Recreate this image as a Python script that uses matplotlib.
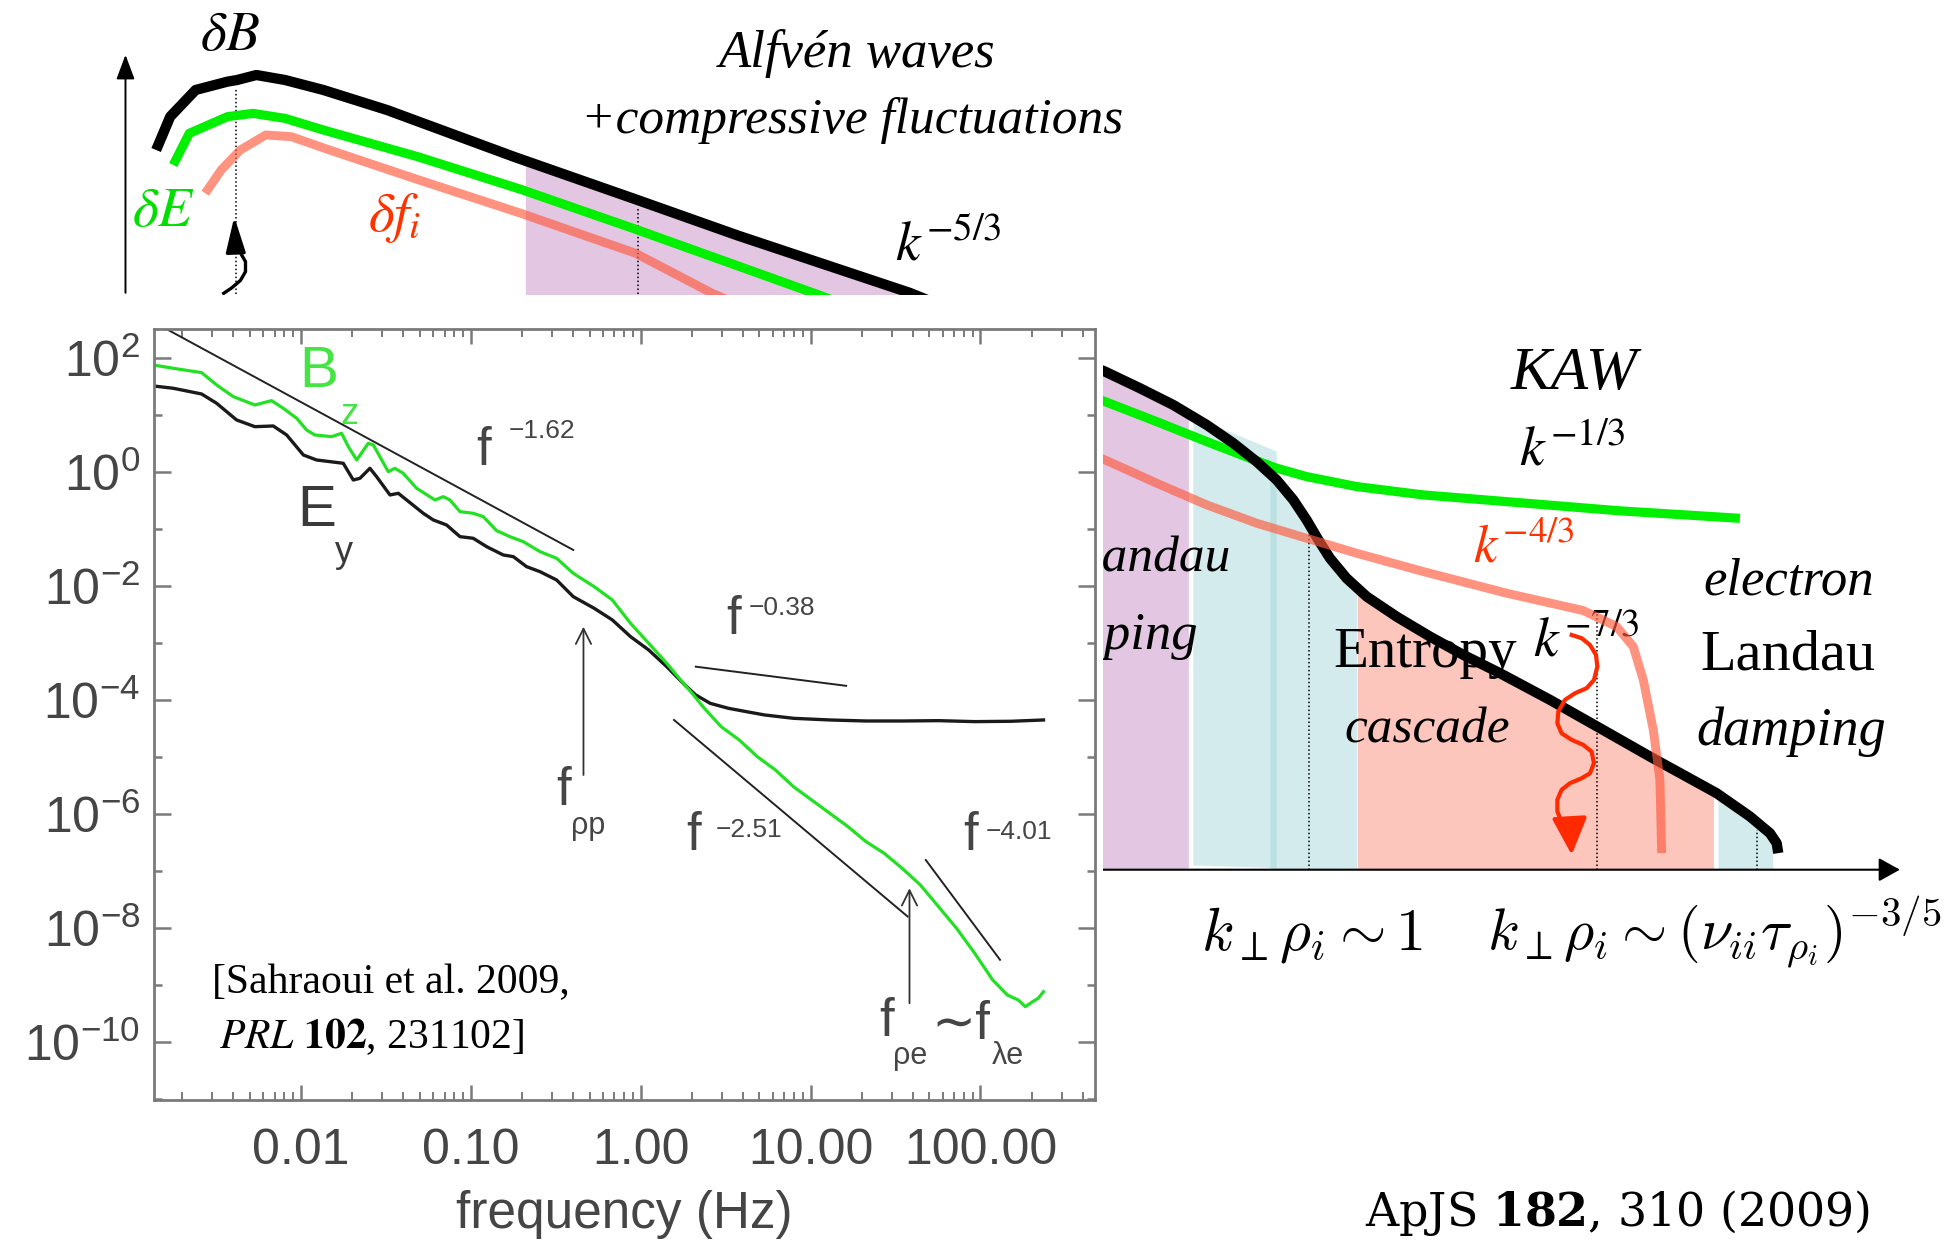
import numpy as np
import matplotlib
matplotlib.use('Agg')
import matplotlib.pyplot as plt
from matplotlib.patches import Rectangle, Polygon
from matplotlib.ticker import FixedLocator, FuncFormatter, LogLocator, NullFormatter

plt.rcParams['font.family'] = ['Liberation Sans', 'DejaVu Sans']

# --- schematic spectra (sketch units: log k to the right, log amplitude up) ---
dB_k = [1.253, 1.366, 1.57, 1.826, 1.903, 2.057, 2.287, 2.594, 3.106, 4.129, 5.101, 5.92, 7.30,
        8.867, 9.148, 9.415, 9.683, 9.897, 10.084, 10.245, 10.378, 10.485, 10.579, 10.672,
        10.806, 10.967, 11.207, 11.475, 11.742, 12.037, 12.438, 12.839, 13.24, 13.508,
        13.775, 14.043, 14.203, 14.257, 14.27]
dB_amp = [8.756, 9.024, 9.238, 9.305, 9.318, 9.358, 9.318, 9.238, 9.077, 8.70, 8.36, 8.07, 7.61,
          6.978, 6.844, 6.71, 6.55, 6.403, 6.255, 6.108, 5.948, 5.787, 5.627, 5.48,
          5.319, 5.172, 5.011, 4.851, 4.704, 4.557, 4.343, 4.116, 3.888, 3.741,
          3.594, 3.407, 3.273, 3.193, 3.113]

dE_k = [1.39, 1.519, 1.826, 2.03, 2.287, 2.594, 3.36, 4.18, 5.101, 6.534,
        8.867, 9.282, 9.683, 10.031, 10.245, 10.485, 10.886, 11.421, 12.09, 13.0, 13.962]
dE_amp = [8.636, 8.89, 9.024, 9.05, 9.01, 8.917, 8.70, 8.44, 8.12, 7.606,
          6.737, 6.576, 6.416, 6.282, 6.202, 6.135, 6.055, 5.988, 5.934, 5.86, 5.80]

dfi_k = [1.647, 1.775, 1.928, 2.133, 2.338, 2.645, 3.361, 4.18, 5.101, 5.715,
         8.867, 9.282, 9.683, 10.084, 10.485, 10.886, 11.421, 12.09, 12.705, 12.973,
         13.106, 13.187, 13.267, 13.32, 13.334]
dfi_amp = [8.409, 8.596, 8.756, 8.877, 8.863, 8.756, 8.516, 8.248, 7.927, 7.606,
           6.269, 6.082, 5.908, 5.761, 5.64, 5.52, 5.373, 5.199, 5.06, 4.931,
           4.771, 4.503, 4.102, 3.701, 3.113]

# shaded k ranges under the dB curve
purple_band = (4.216, 9.536)
teal_band = (10.19, 10.886)
salmon_band = (10.892, 13.75)
teal_band_e = (13.786, 14.225)
teal_patch_k = [9.576, 10.245, 10.245, 9.576]
teal_patch_amp = [6.616, 6.336, 2.993, 3.015]

# dotted scale markers
marks_k = [1.892, 5.116, 10.506, 12.818, 14.102]
marks_top = [9.25, 8.30, 5.68, 5.04, 3.30]

# wavy arrows (energy injection / ion heating)
inject_k = [1.795, 1.86, 1.93, 1.97, 1.97, 1.93, 1.89]
inject_amp = [7.606, 7.65, 7.71, 7.78, 7.86, 7.93, 7.98]
inject_tip = (1.88, 8.22)
heat_k = [12.612, 12.692, 12.759, 12.807, 12.818, 12.791, 12.732, 12.638, 12.558, 12.505,
          12.497, 12.531, 12.612, 12.705, 12.772, 12.791, 12.759, 12.692, 12.598, 12.531,
          12.497, 12.497, 12.531, 12.598]
heat_amp = [4.864, 4.838, 4.784, 4.704, 4.61, 4.503, 4.437, 4.396, 4.343, 4.249,
            4.156, 4.075, 4.022, 3.982, 3.928, 3.835, 3.754, 3.714, 3.674, 3.621,
            3.541, 3.447, 3.367, 3.34]
heat_tip = (12.612, 3.10)

# --- measured spectra, Cluster (log10 f [Hz], log10 PSD) ---
bz_logf = [-2.869, -2.751, -2.585, -2.496, -2.398, -2.271, -2.173, -2.104, -2.025, -1.967,
           -1.918, -1.819, -1.761, -1.721, -1.672, -1.604, -1.574, -1.486, -1.447, -1.398,
           -1.319, -1.211, -1.162, -1.123, -1.064, -0.986, -0.927, -0.848, -0.770, -0.691,
           -0.593, -0.495, -0.397, -0.274, -0.167, -0.060, 0.047, 0.153, 0.260, 0.303,
           0.366, 0.473, 0.580, 0.686, 0.793, 0.899, 1.006, 1.113, 1.220, 1.326,
           1.433, 1.539, 1.646, 1.753, 1.859, 1.966, 2.072, 2.158, 2.222, 2.264,
           2.307, 2.339, 2.371]
bz_logp = [1.882, 1.824, 1.748, 1.531, 1.326, 1.180, 1.256, 1.122, 0.946, 0.741,
           0.653, 0.624, 0.683, 0.448, 0.214, 0.507, 0.478, 0.009, 0.068, -0.020,
           -0.283, -0.488, -0.430, -0.488, -0.693, -0.722, -0.781, -1.027, -1.132, -1.220,
           -1.395, -1.512, -1.776, -2.010, -2.244, -2.654, -3.005, -3.356, -3.737, -3.883,
           -4.117, -4.468, -4.702, -4.995, -5.229, -5.522, -5.756, -5.990, -6.224, -6.487,
           -6.692, -6.956, -7.248, -7.629, -8.009, -8.448, -8.917, -9.180, -9.268, -9.385,
           -9.297, -9.239, -9.122]

ey_logf = [-2.869, -2.751, -2.585, -2.496, -2.379, -2.271, -2.163, -2.084, -1.986, -1.908,
           -1.829, -1.751, -1.692, -1.653, -1.594, -1.555, -1.476, -1.427, -1.378, -1.280,
           -1.221, -1.143, -1.064, -0.986, -0.907, -0.809, -0.750, -0.672, -0.593, -0.495,
           -0.397, -0.274, -0.167, -0.060, 0.047, 0.153, 0.260, 0.324, 0.409, 0.516,
           0.622, 0.729, 0.899, 1.113, 1.326, 1.539, 1.753, 1.966, 2.179, 2.371]
ey_logp = [1.514, 1.473, 1.373, 1.209, 0.917, 0.799, 0.811, 0.653, 0.302, 0.214,
           0.185, 0.156, -0.137, -0.108, 0.068, -0.078, -0.400, -0.371, -0.488, -0.722,
           -0.839, -0.927, -1.132, -1.161, -1.308, -1.454, -1.483, -1.659, -1.747, -1.893,
           -2.186, -2.390, -2.595, -2.888, -3.122, -3.415, -3.737, -3.912, -4.059, -4.146,
           -4.205, -4.263, -4.322, -4.351, -4.369, -4.369, -4.363, -4.380, -4.374, -4.351]

# power-law fits: exponent, log10 amplitude, log10 f range
fit_slopes = [-1.62, -0.38, -2.51, -4.01]
fit_logamp = [-2.009, -3.292, -3.859, -0.081]
fit_ranges = [(-2.81, -0.397), (0.324, 1.209), (0.196, 1.571), (1.678, 2.115)]

xtick_vals = [0.01, 0.1, 1.0, 10.0, 100.0]

K_AXIS = 2.98

fig = plt.figure(figsize=(19.54, 12.41), dpi=100)

# ================= background sketch =================
bg = fig.add_axes([0, 0, 1, 1])
bg.set_xlim(0, 15.68)
bg.set_ylim(0, 9.96)
bg.axis('off')


def under_dB(k0, k1):
    kk = np.asarray(dB_k)
    aa = np.asarray(dB_amp)
    xs = np.concatenate([[k0], kk[(kk > k0) & (kk < k1)], [k1]])
    return xs, np.interp(xs, kk, aa)


xs, ys = under_dB(*purple_band)
bg.fill_between(xs, ys, K_AXIS, color='#e2c6e2', lw=0, zorder=1)
xs, ys = under_dB(*salmon_band)
bg.fill_between(xs, ys, K_AXIS, color='#fdc6bd', lw=0, zorder=1)
for band in (teal_band, teal_band_e):
    xs, ys = under_dB(*band)
    bg.fill_between(xs, ys, K_AXIS, color='#9fd3d6', alpha=0.45, lw=0, zorder=1)
bg.add_patch(Polygon(list(zip(teal_patch_k, teal_patch_amp)), closed=True,
                     fc='#9fd3d6', alpha=0.45, ec='none', zorder=1))

bg.vlines(marks_k, K_AXIS, marks_top, colors='black', linestyles=(0, (1, 1.6)), lw=1.1, zorder=2)

bg.plot(dE_k, dE_amp, color='#00f000', lw=6.6, solid_capstyle='butt', solid_joinstyle='round', zorder=3)
bg.plot(dB_k, dB_amp, color='black', lw=7.4, solid_capstyle='butt', solid_joinstyle='round', zorder=4)
bg.plot(dfi_k, dfi_amp, color='#ff5a3c', alpha=0.65, lw=6.4, solid_capstyle='butt',
        solid_joinstyle='round', zorder=7.5)

# axes arrows
bg.annotate('', xy=(1.007, 9.52), xytext=(1.007, 7.61),
            arrowprops=dict(arrowstyle='-|>,head_length=0.75,head_width=0.28', mutation_scale=20,
                            lw=1.4, color='black', shrinkA=0, shrinkB=0), zorder=6)
bg.annotate('', xy=(15.246, K_AXIS), xytext=(1.007, K_AXIS),
            arrowprops=dict(arrowstyle='-|>,head_length=0.65,head_width=0.36', mutation_scale=20,
                            lw=1.5, color='black', shrinkA=0, shrinkB=0), zorder=6)

# wavy arrows
bg.plot(inject_k, inject_amp, color='black', lw=2.4, solid_joinstyle='round', zorder=6)
bg.annotate('', xy=inject_tip, xytext=(inject_k[-1], inject_amp[-1]),
            arrowprops=dict(arrowstyle='-|>,head_length=1.8,head_width=0.5', mutation_scale=12,
                            lw=2.4, color='black', shrinkA=0, shrinkB=0), zorder=6)
bg.plot(heat_k, heat_amp, color='#ff2a00', lw=3.0, solid_joinstyle='round', zorder=8)
bg.annotate('', xy=heat_tip, xytext=(heat_k[-1], heat_amp[-1]),
            arrowprops=dict(arrowstyle='-|>,head_length=1.9,head_width=0.9', mutation_scale=12,
                            lw=3.0, color='#ff2a00', shrinkA=0, shrinkB=0), zorder=8)

# labels
it = dict(fontfamily='Liberation Serif', style='italic', zorder=7)
up = dict(fontfamily='Liberation Serif', zorder=7)
mth = dict(math_fontfamily='stix', ha='center', va='center', zorder=7)
bg.text(1.85, 9.67, r'$\delta B$', fontsize=40, color='black', **mth)
bg.text(1.31, 8.26, r'$\delta E$', fontsize=40, color='#00e000', **mth)
bg.text(3.17, 8.21, r'$\delta f_i$', fontsize=40, color='#ff3300', **mth)
bg.text(7.61, 7.98, r'$k^{-5/3}$', fontsize=40, color='black', **mth)
bg.text(6.88, 9.53, 'Alfvén waves', fontsize=38, ha='center', va='center', **it)
bg.text(6.84, 8.99, '+compressive fluctuations', fontsize=37, ha='center', va='center', **it)
bg.text(12.63, 6.96, 'KAW', fontsize=44, ha='center', va='center', **it)
bg.text(12.62, 6.34, r'$k^{-1/3}$', fontsize=40, color='black', **mth)
bg.text(12.23, 5.56, r'$k^{-4/3}$', fontsize=38, color='#ff3300', **mth)
bg.text(12.73, 4.80, r'$k^{-7/3}$', fontsize=40, color='black', **mth)
bg.text(9.88, 5.37, 'Landau', fontsize=37, ha='right', va='baseline', **it)
bg.text(9.615, 4.75, 'damping', fontsize=38, ha='right', va='baseline', **it)
bg.text(11.44, 4.61, 'Entropy', fontsize=41, ha='center', va='baseline', **up)
bg.text(11.45, 4.00, 'cascade', fontsize=37, ha='center', va='baseline', **it)
bg.text(14.355, 5.185, 'electron', fontsize=38, ha='center', va='baseline', **it)
bg.text(14.35, 4.584, 'Landau', fontsize=42, ha='center', va='baseline', **up)
bg.text(14.37, 3.98, 'damping', fontsize=39, ha='center', va='baseline', **it)

bg.text(9.636, 2.34, r'$k_\perp \rho_i \sim 1$', fontsize=43, math_fontfamily='cm',
        ha='left', va='baseline', zorder=7)
bg.text(11.93, 2.34, r'$k_\perp \rho_i \sim (\nu_{ii} \tau_{\rho_i})^{-3/5}$', fontsize=42,
        math_fontfamily='cm', ha='left', va='baseline', zorder=7)
bg.text(12.98, 0.12, r'ApJS $\mathbf{182}$, 310 (2009)', fontsize=33, fontfamily='DejaVu Serif',
        math_fontfamily='dejavuserif', ha='center', va='baseline', zorder=7)

# white backing of the measured-spectrum panel
bg.add_patch(Rectangle((0, 0), 8.85, 7.59, fc='white', ec='none', zorder=20))

# ================= measured spectrum panel =================
ax = fig.add_axes([154 / 1954, 1 - 1100 / 1241, 941 / 1954, 771 / 1241])
ax.set_xscale('log')
ax.set_yscale('log')
ax.set_xlim(10 ** -2.865, 10 ** 2.674)
ax.set_ylim(10 ** -11.024, 10 ** 2.514)

ax.plot(10 ** np.array(ey_logf), 10 ** np.array(ey_logp), color='#1a1a1a', lw=2.4)
ax.plot(10 ** np.array(bz_logf), 10 ** np.array(bz_logp), color='#22e022', lw=2.3)

for s, a, (lo, hi) in zip(fit_slopes, fit_logamp, fit_ranges):
    lf = np.array([lo, hi])
    ax.plot(10 ** lf, 10 ** (a + s * lf), color='#222222', lw=1.4)

arr = dict(arrowstyle='->,head_length=0.5,head_width=0.25', mutation_scale=22, lw=1.3,
           color='#333333', shrinkA=0, shrinkB=0)
ax.annotate('', xy=(10 ** -0.337, 10 ** -2.713), xytext=(10 ** -0.337, 10 ** -5.317), arrowprops=arr)
ax.annotate('', xy=(10 ** 1.582, 10 ** -7.306), xytext=(10 ** 1.582, 10 ** -9.326), arrowprops=arr)

grey = '#454545'


def lab(lf, lp, s, size, color=grey):
    ax.text(10 ** lf, 10 ** lp, s, fontsize=size, color=color, ha='center', va='center',
            fontfamily=['Liberation Sans', 'DejaVu Sans'])


lab(-1.894, 1.765, 'B', 42, '#44e444')
lab(-1.717, 1.004, 'z', 26, '#44e444')
lab(-1.908, -0.673, 'E', 42, '#3a3a3a')
lab(-1.747, -1.419, 'y', 26, '#3a3a3a')
for (f_lf, f_lp), (e_lf, e_lp), s in zip(
        [(-0.926, 0.38), (0.548, -2.598), (0.309, -6.386), (1.942, -6.386)],
        [(-0.583, 0.73), (0.833, -2.379), (0.637, -6.277), (2.227, -6.32)],
        fit_slopes):
    lab(f_lf, f_lp, 'f', 38)
    lab(e_lf, e_lp, '\u2212%.2f' % abs(s), 19)
lab(-0.454, -5.598, 'f', 38)
lab(-0.309, -6.21, 'ρp', 22)
lab(1.448, -9.65, 'f', 38)
lab(1.586, -10.26, 'ρe', 22)
lab(1.884, -9.71, '∼f', 38)
lab(2.16, -10.26, 'λe', 22)

ax.text(0.0616, 0.152, '[Sahraoui et al. 2009,', transform=ax.transAxes, fontsize=30,
        fontfamily='Liberation Serif', ha='left', va='center')
ax.text(0.0696, 0.082, r'$\mathit{PRL}$ $\mathbf{102}$, 231102]', transform=ax.transAxes,
        fontsize=30, fontfamily='Liberation Serif', math_fontfamily='stix', ha='left', va='center')

ax.xaxis.set_major_locator(FixedLocator(xtick_vals))
ax.xaxis.set_minor_locator(LogLocator(base=10, subs=np.arange(2, 10), numticks=30))
ax.xaxis.set_major_formatter(FuncFormatter(lambda v, p: f'{v:.2f}'))
ax.xaxis.set_minor_formatter(NullFormatter())
ax.yaxis.set_major_locator(FixedLocator([10.0 ** e for e in range(-10, 3, 2)]))
ax.yaxis.set_minor_locator(FixedLocator([10.0 ** e for e in range(-11, 3, 2)]))
ax.yaxis.set_major_formatter(FuncFormatter(
    lambda v, p: r'$\mathregular{10^{%d}}$' % int(round(np.log10(v)))))
ax.yaxis.set_minor_formatter(NullFormatter())

ax.tick_params(which='both', direction='in', top=True, right=True, color='#7a7a7a')
ax.tick_params(axis='x', which='major', length=11, width=1.8, pad=20, labelsize=36, labelcolor=grey)
ax.tick_params(axis='x', which='minor', length=5.5, width=1.4)
ax.tick_params(axis='y', which='major', length=12, width=1.8, pad=10, labelsize=36, labelcolor=grey)
ax.tick_params(axis='y', which='minor', length=6, width=1.8)
for sp in ax.spines.values():
    sp.set_color('#7a7a7a')
    sp.set_linewidth(2)
ax.set_xlabel('frequency (Hz)', fontsize=37, color=grey, labelpad=12)

fig.savefig('out.png', dpi=100)
